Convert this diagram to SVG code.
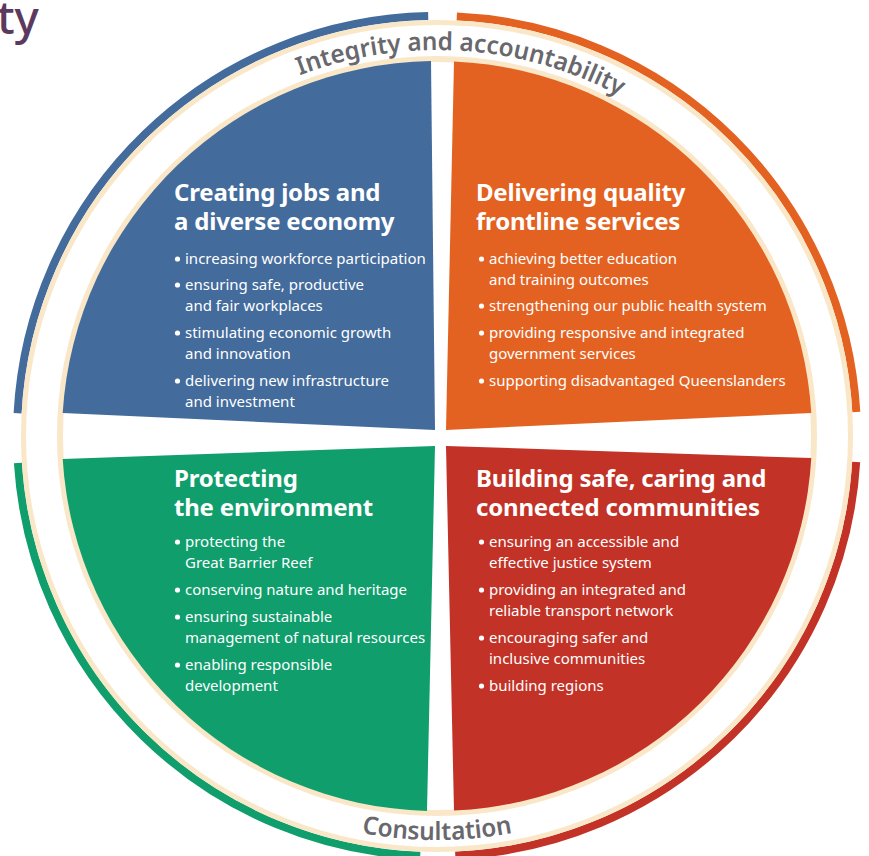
<svg xmlns="http://www.w3.org/2000/svg" width="869" height="856" viewBox="0 0 869 856">
  <style>
    .ttl { font-family: "Noto Sans", "Open Sans", sans-serif; font-weight: 700; font-size: 24px; letter-spacing: -0.2px; fill: #ffffff; }
    .bul { font-family: "Noto Sans", "Open Sans", sans-serif; font-weight: 400; font-size: 15px; fill: #ffffff; }
    .ring { font-family: "Noto Sans", "Open Sans", sans-serif; font-weight: 600; font-size: 25px; fill: #68686d; }
    .band { fill: none; stroke-width: 8; }
    .cream { fill: none; stroke: #f9e7c8; }
  </style>
  <defs>
    <path id="arcTop" d="M208.5,124.9 A386,386 0 0 1 703.7,156.9"/>
    <path id="arcBottom" d="M235,785.9 A404,404 0 0 0 639,785.9"/>
    <circle id="dot" r="2.6" fill="#ffffff"/>
  </defs>
  <rect width="869" height="856" fill="#ffffff"/>

  <!-- cut-off page heading -->
  <text x="-3" y="34" font-family="Noto Sans, sans-serif" font-size="46" font-weight="500" fill="#5c3a5f">ty</text>

  <!-- outer coloured band, split into four arcs -->
  <g id="outer-band">
    <path class="band" stroke="#436b9c" d="M17.6,413.3 A420,420 0 0 1 428.2,16.1"/>
    <path class="band" stroke="#e36221" d="M456.8,16.5 A420,420 0 0 1 856.3,412"/>
    <path class="band" stroke="#c23226" d="M856.2,462 A420,420 0 0 1 455.3,855.6"/>
    <path class="band" stroke="#0f9e6c" d="M420.2,855.7 A420,420 0 0 1 17.9,463.1"/>
  </g>
  <circle class="cream" cx="437" cy="436" r="413.5" stroke-width="5"/>
  <circle class="cream" cx="437" cy="436" r="377" stroke-width="6"/>

  <!-- ring labels -->
  <text class="ring"><textPath href="#arcTop" startOffset="50%" text-anchor="middle" textLength="330" lengthAdjust="spacingAndGlyphs">Integrity and accountability</textPath></text>
  <text class="ring"><textPath href="#arcBottom" startOffset="50%" text-anchor="middle" textLength="152" lengthAdjust="spacingAndGlyphs">Consultation</textPath></text>

  <g id="jobs">
    <path fill="#436b9c" d="M435,430 L431,61 A375,375 0 0 0 62.7,413 Z"/>
    <text class="ttl" x="174" y="201">Creating jobs and</text>
    <text class="ttl" x="174" y="230">a diverse economy</text>
    <use href="#dot" x="177.5" y="259"/>
    <use href="#dot" x="177.5" y="285"/>
    <use href="#dot" x="177.5" y="333"/>
    <use href="#dot" x="177.5" y="381"/>
    <g class="bul">
      <text x="185" y="264">increasing workforce participation</text>
      <text x="185" y="290">ensuring safe, productive</text>
      <text x="185" y="311">and fair workplaces</text>
      <text x="185" y="338">stimulating economic growth</text>
      <text x="185" y="359">and innovation</text>
      <text x="185" y="386">delivering new infrastructure</text>
      <text x="185" y="407">and investment</text>
    </g>
  </g>

  <g id="services">
    <path fill="#e36221" d="M446,430 L454,61.4 A375,375 0 0 1 811.3,413 Z"/>
    <text class="ttl" x="476" y="201">Delivering quality</text>
    <text class="ttl" x="476" y="230">frontline services</text>
    <use href="#dot" x="481.5" y="259"/>
    <use href="#dot" x="481.5" y="306"/>
    <use href="#dot" x="481.5" y="333"/>
    <use href="#dot" x="481.5" y="381"/>
    <g class="bul">
      <text x="489" y="264">achieving better education</text>
      <text x="489" y="285">and training outcomes</text>
      <text x="489" y="311">strengthening our public health system</text>
      <text x="489" y="338">providing responsive and integrated</text>
      <text x="489" y="359">government services</text>
      <text x="489" y="386">supporting disadvantaged Queenslanders</text>
    </g>
  </g>

  <g id="environment">
    <path fill="#0f9e6c" d="M435,446 L427,810.9 A375,375 0 0 1 62.7,459 Z"/>
    <text class="ttl" x="174" y="487">Protecting</text>
    <text class="ttl" x="174" y="516">the environment</text>
    <use href="#dot" x="177.5" y="542"/>
    <use href="#dot" x="177.5" y="590"/>
    <use href="#dot" x="177.5" y="617"/>
    <use href="#dot" x="177.5" y="665"/>
    <g class="bul">
      <text x="185" y="547">protecting the</text>
      <text x="185" y="568">Great Barrier Reef</text>
      <text x="185" y="595">conserving nature and heritage</text>
      <text x="185" y="622">ensuring sustainable</text>
      <text x="185" y="643">management of natural resources</text>
      <text x="185" y="670">enabling responsible</text>
      <text x="185" y="691">development</text>
    </g>
  </g>

  <g id="communities">
    <path fill="#c23226" d="M446,446 L811.3,458 A375,375 0 0 1 454,810.6 Z"/>
    <text class="ttl" x="476" y="487">Building safe, caring and</text>
    <text class="ttl" x="476" y="516">connected communities</text>
    <use href="#dot" x="481.5" y="542"/>
    <use href="#dot" x="481.5" y="590"/>
    <use href="#dot" x="481.5" y="638"/>
    <use href="#dot" x="481.5" y="686"/>
    <g class="bul">
      <text x="489" y="547">ensuring an accessible and</text>
      <text x="489" y="568">effective justice system</text>
      <text x="489" y="595">providing an integrated and</text>
      <text x="489" y="616">reliable transport network</text>
      <text x="489" y="643">encouraging safer and</text>
      <text x="489" y="664">inclusive communities</text>
      <text x="489" y="691">building regions</text>
    </g>
  </g>
</svg>
